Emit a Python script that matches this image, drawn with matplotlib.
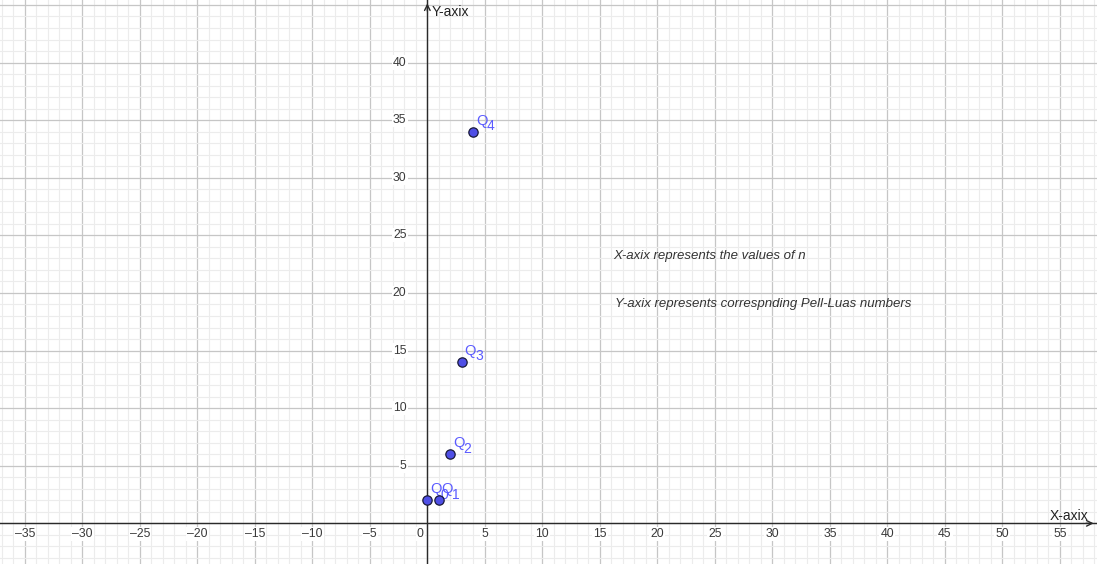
import matplotlib
matplotlib.use("Agg")
import matplotlib.pyplot as plt
from matplotlib.ticker import MultipleLocator, NullFormatter

plt.rcParams["font.family"] = ["Liberation Sans", "DejaVu Sans"]

# Data: Pell-Lucas numbers
n_values = [0, 1, 2, 3, 4]
pell_lucas = [2, 2, 6, 14, 34]
point_labels = ["0", "1", "2", "3", "4"]

x_ticks = [-35, -30, -25, -20, -15, -10, -5, 5, 10, 15, 20, 25, 30, 35, 40, 45, 50, 55]
y_ticks = [5, 10, 15, 20, 25, 30, 35, 40]

x_label = "X-axix"
y_label = "Y-axix"
note1 = "X-axix represents the values of n"
note2 = "Y-axix represents correspnding Pell-Luas numbers"

W, H = 1097, 564
fig = plt.figure(figsize=(W / 100, H / 100), dpi=100)
ax = fig.add_axes([0, 0, 1, 1])
xmin, xmax = -37.16, 58.23
ymin, ymax = -3.53, 45.43
ax.set_xlim(xmin, xmax)
ax.set_ylim(ymin, ymax)

ax.xaxis.set_major_locator(MultipleLocator(5))
ax.yaxis.set_major_locator(MultipleLocator(5))
ax.xaxis.set_minor_locator(MultipleLocator(1))
ax.yaxis.set_minor_locator(MultipleLocator(1))
ax.xaxis.set_major_formatter(NullFormatter())
ax.yaxis.set_major_formatter(NullFormatter())
ax.grid(which="minor", color="#ececec", linewidth=0.8)
ax.grid(which="major", color="#c6c6c6", linewidth=0.9)
ax.set_axisbelow(True)
ax.tick_params(which="both", length=0)

for s in ["top", "right"]:
    ax.spines[s].set_visible(False)
ax.spines["left"].set_position(("data", 0))
ax.spines["bottom"].set_position(("data", 0))
for s in ["left", "bottom"]:
    ax.spines[s].set_color("#2a2a2a")
    ax.spines[s].set_linewidth(1.0)
    ax.spines[s].set_zorder(2)

lbl_bbox = dict(facecolor="white", edgecolor="none", pad=0.8)
tick_color = "#3a3a3a"
for v in x_ticks:
    txt = ("\u2013%d" % abs(v)) if v < 0 else "%d" % v
    ax.annotate(txt, xy=(v, 0), xytext=(0, -7.5), textcoords="offset points",
                fontsize=8.8, color=tick_color, ha="center", va="center",
                bbox=lbl_bbox, zorder=3)
for v in y_ticks:
    ax.annotate("%d" % v, xy=(0, v), xytext=(-15, 0), textcoords="offset points",
                fontsize=8.8, color=tick_color, ha="right", va="center",
                bbox=lbl_bbox, zorder=3)
ax.annotate("0", xy=(0, 0), xytext=(-5, -7.5), textcoords="offset points",
            fontsize=8.8, color=tick_color, ha="center", va="center",
            bbox=lbl_bbox, zorder=3)

# axis arrows
ax.annotate("", xy=(xmax - 0.05, 0), xytext=(xmax - 1.2, 0),
            arrowprops=dict(arrowstyle="->", color="#2a2a2a", lw=1.0))
ax.annotate("", xy=(0, ymax - 0.05), xytext=(0, ymax - 1.2),
            arrowprops=dict(arrowstyle="->", color="#2a2a2a", lw=1.0))
ax.text(0.35, 44.4, y_label, fontsize=10, color="#222222", ha="left", va="center")
ax.text(57.5, 0.6, x_label, fontsize=10, color="#222222", ha="right", va="center")

ax.scatter(n_values, pell_lucas, s=45, color="#4f4fe6", edgecolors="#1a1a3a",
           linewidths=0.9, zorder=5, clip_on=False)
for x, y, lab in zip(n_values, pell_lucas, point_labels):
    ax.annotate("Q", xy=(x, y), xytext=(2.0, 5.0), textcoords="offset points",
                fontsize=10.5, color="#5b5bff", ha="left", va="baseline", zorder=4)
    ax.annotate(lab, xy=(x, y), xytext=(9.6, 1.2), textcoords="offset points",
                fontsize=10, color="#5b5bff", ha="left", va="baseline", zorder=4)

ax.text(16.15, 23.2, note1, fontsize=9.5, style="italic", color="#333333",
        ha="left", va="center")
ax.text(16.3, 19.0, note2, fontsize=9.5, style="italic", color="#333333",
        ha="left", va="center")

fig.savefig("out.png", dpi=100)
